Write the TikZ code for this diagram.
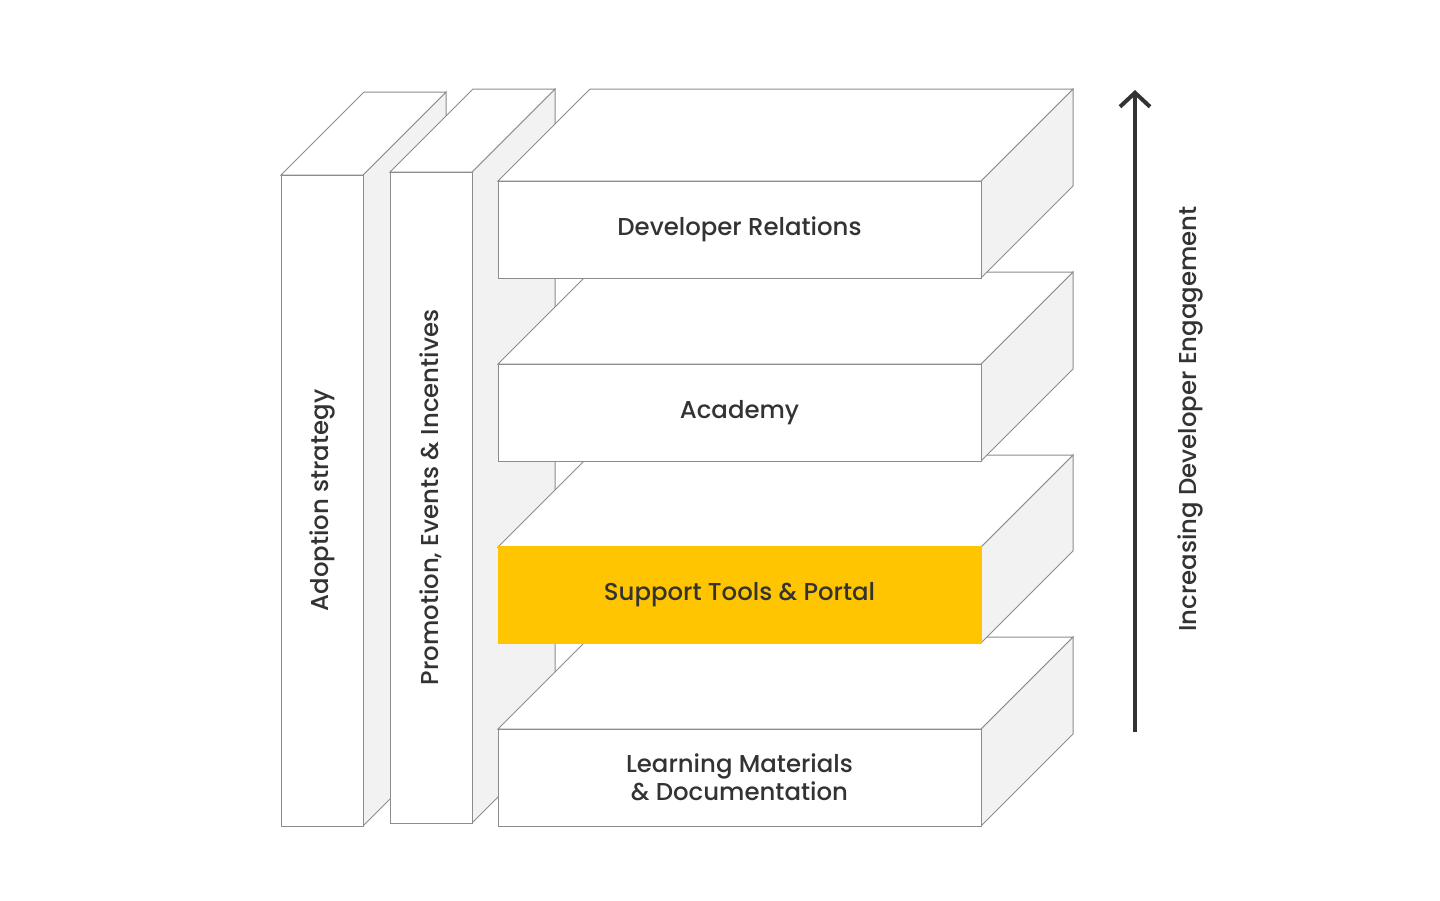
\documentclass[tikz,border=0pt]{standalone}
\usepackage{fontspec}
\setmainfont{Poppins}[UprightFont=* Medium]
\usetikzlibrary{arrows.meta}
\definecolor{edge}{HTML}{8C8C8C}
\definecolor{sidegray}{HTML}{F2F2F2}
\definecolor{txt}{HTML}{333333}
\definecolor{gold}{HTML}{FFC500}
\tikzset{
  face/.style={draw=edge, line width=0.5pt, fill=white, line join=miter},
  side/.style={draw=edge, line width=0.5pt, fill=sidegray},
  front/.style={draw=edge, line width=0.5pt, fill=white, inner sep=0pt, text=txt,
     font=\fontsize{12.2}{14}\selectfont, align=center},
  colfront/.style={front, minimum width=41pt, minimum height=325.5pt},
  boxfront/.style={front, minimum width=241.5pt, minimum height=48.5pt},
  hilite/.style={fill=gold, draw=gold},
  arrowlab/.style={text=txt, font=\fontsize{12.2}{14}\selectfont, rotate=90},
}
\begin{document}
\begin{tikzpicture}[x=0.5pt, y=-0.5pt]
\useasboundingbox (0,0) rectangle (1440,900);
% ---- column 1
\filldraw[side] (363,175) -- (446,92) -- (446,743) -- (363,826) -- cycle;
\filldraw[face] (281,175) -- (364,92) -- (446,92) -- (363,175) -- cycle;
\node[colfront] (c1) at (322,500.5) {};
\node[arrowlab] (c1t) at (c1.center) {Adoption strategy};
% ---- column 2
\filldraw[side] (472,172) -- (555,89) -- (555,740) -- (472,823) -- cycle;
\filldraw[face] (390,172) -- (473,89) -- (555,89) -- (472,172) -- cycle;
\node[colfront] (c2) at (431,497.5) {};
\node[arrowlab] (c2t) at (c2.center) {Promotion, Events \& Incentives};
% ---- box 4
\filldraw[side] (981,729) -- (1073,637) -- (1073,734) -- (981,826) -- cycle;
\filldraw[face] (498,729) -- (590,637) -- (1073,637) -- (981,729) -- cycle;
\node[boxfront] (b4) at (739.5,777.5) {Learning Materials\\\& Documentation};
% ---- box 3
\filldraw[side] (981,547) -- (1073,455) -- (1073,551) -- (981,643) -- cycle;
\filldraw[face] (498,547) -- (590,455) -- (1073,455) -- (981,547) -- cycle;
\node[boxfront, hilite] (b3) at (739.5,595) {Support Tools \& Portal};
% ---- box 2
\filldraw[side] (981,364) -- (1073,272) -- (1073,369) -- (981,461) -- cycle;
\filldraw[face] (498,364) -- (590,272) -- (1073,272) -- (981,364) -- cycle;
\node[boxfront] (b2) at (739.5,412.5) {Academy};
% ---- box 1
\filldraw[side] (981,181) -- (1073,89) -- (1073,186) -- (981,278) -- cycle;
\filldraw[face] (498,181) -- (590,89) -- (1073,89) -- (981,181) -- cycle;
\node[boxfront] (b1) at (739.5,229.5) {Developer Relations};
% ---- arrow
\coordinate (abot) at (1135,732);
\coordinate (atop) at (1135,90);
\draw[txt, line width=2pt, -{Straight Barb[length=7pt, width=15pt, line width=2pt]}] (abot) -- (atop);
\node[arrowlab] (alab) at (1190,419) {Increasing Developer Engagement};
\end{tikzpicture}
\end{document}
